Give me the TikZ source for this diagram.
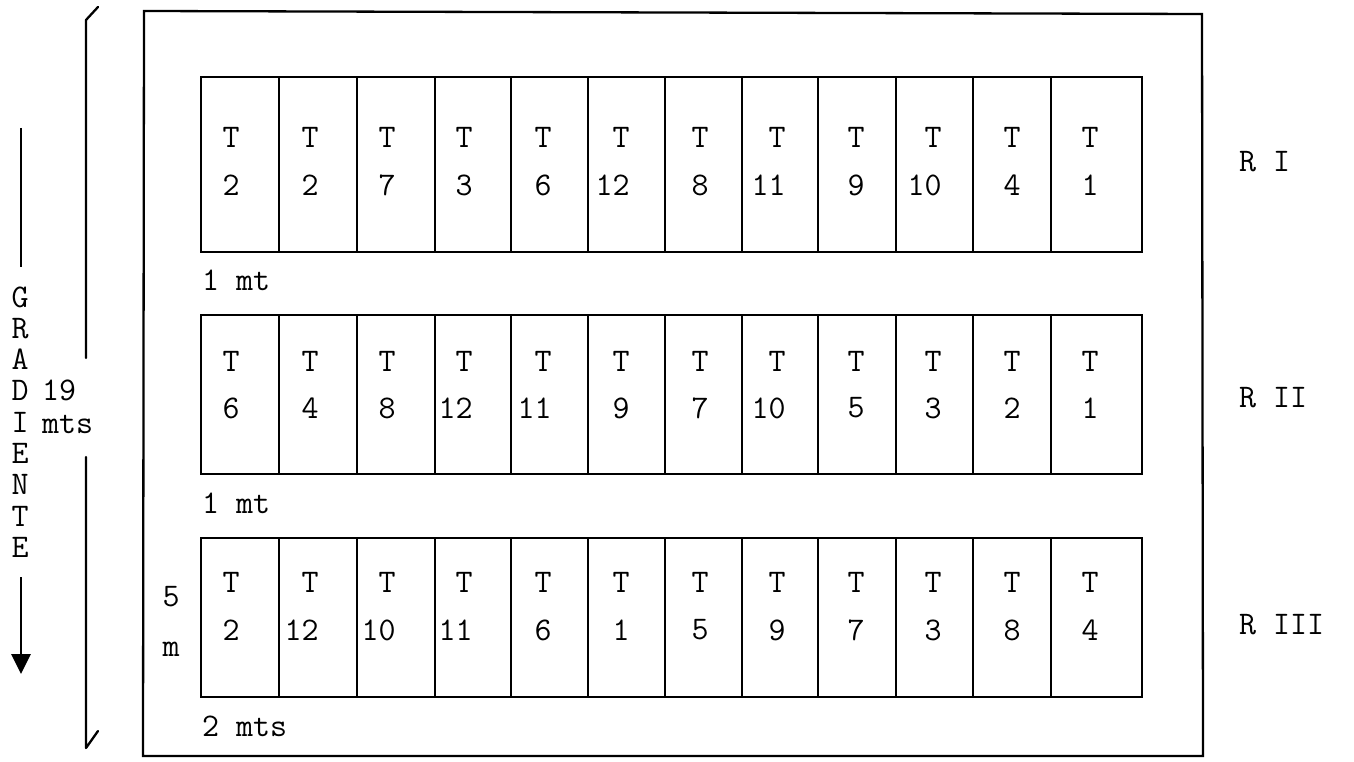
\documentclass[tikz,border=0pt]{standalone}
\usetikzlibrary{arrows.meta}
\begin{document}
\begin{tikzpicture}[x=1pt,y=-1pt,
  lbl/.style={font=\ttfamily\fontsize{33}{40}\selectfont, inner sep=0pt},
  cellline/.style={draw, line width=2.5pt},
  framebox/.style={draw, line width=2.3pt},
  bracket/.style={draw, line width=2.3pt, line cap=round, line join=round},
  grad/.style={draw, line width=2.7pt}]
\useasboundingbox (0,0) rectangle (1354,762);
% outer frame
\draw[framebox] (144,11) -- (1202,14) -- (1203,756) -- (143,756) -- cycle;
% rows of plots
\foreach \r/\yt/\yb/\ty in {1/77/252/137, 2/315/474/361, 3/538/697/582}{
  \draw[cellline] (201,\yt) rectangle (1142,\yb);
  \foreach \x in {279,357,435,511,588,665,742,818,896,973,1051}{
    \draw[cellline] (\x,\yt) -- (\x,\yb);
  }
  \foreach \i/\x in {1/231,2/310,3/387,4/464,5/543,6/621,7/700,8/777,9/856,10/933,11/1012,12/1090}{
    \node[lbl] (t\r-\i) at (\x,\ty) {T};
  }
}
\foreach \i/\x/\n in {1/231/2,2/310/2,3/387/7,4/464/3,5/543/6,6/621/12,7/700/8,8/777/11,9/856/9,10/933/10,11/1012/4,12/1090/1}{
  \node[lbl,anchor=east] (n1-\i) at (\x+8.7,185) {\n};
}
\foreach \i/\x/\n in {1/231/6,2/310/4,3/387/8,4/464/12,5/543/11,6/621/9,7/700/7,8/777/10,9/856/5,10/933/3,11/1012/2,12/1090/1}{
  \node[lbl,anchor=east] (n2-\i) at (\x+8.7,408) {\n};
}
\foreach \i/\x/\n in {1/231/2,2/310/12,3/387/10,4/464/11,5/543/6,6/621/1,7/700/5,8/777/9,9/856/7,10/933/3,11/1012/8,12/1090/4}{
  \node[lbl,anchor=east] (n3-\i) at (\x+8.7,630) {\n};
}
% dimension labels
\node[lbl,anchor=west] (w1) at (202,280) {1 mt};
\node[lbl,anchor=west] (w2) at (202,503) {1 mt};
\node[lbl,anchor=west] (w3) at (202,726) {2 mts};
\node[lbl] (h5) at (171,597) {5};
\node[lbl] (hm) at (171,649) {m};
% replicate labels
\node[lbl,anchor=west] (r1) at (1239,162) {R I};
\node[lbl,anchor=west] (r2) at (1239,398) {R II};
\node[lbl,anchor=west] (r3) at (1239,625) {R III};
% 19 mts bracket
\node[lbl,anchor=west] (d19) at (42,390) {19};
\node[lbl,anchor=west] (dmts) at (42,424) {mts};
\coordinate (bt0) at (98,7);
\coordinate (bt1) at (86,20);
\coordinate (bt2) at (86,358);
\coordinate (bb0) at (86,457);
\coordinate (bb1) at (86,748);
\coordinate (bb2) at (98,731);
\draw[bracket] (bt0) -- (bt1) -- (bt2);
\draw[bracket] (bb0) -- (bb1) -- (bb2);
% GRADIENTE
\foreach \c [count=\k from 0] in {G,R,A,D,I,E,N,T,E}{
  \node[lbl] (g\k) at (20,297+31.3*\k) {\c};
}
\coordinate (ga) at (21,128);
\coordinate (gb) at (21,267);
\coordinate (gc) at (21,577);
\coordinate (gd) at (21,674);
\draw[grad] (ga) -- (gb);
\draw[grad,-{Triangle[length=20pt,width=19pt]}] (gc) -- (gd);
\end{tikzpicture}
\end{document}
